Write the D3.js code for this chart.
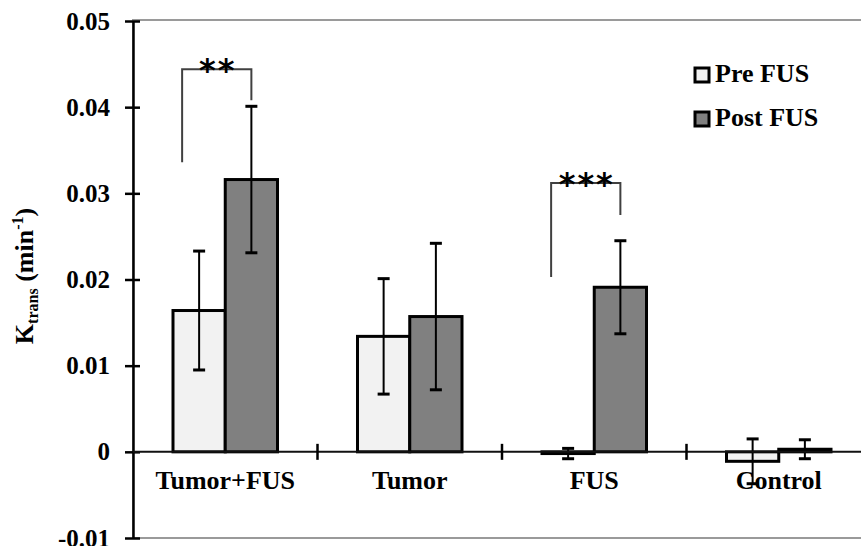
<!DOCTYPE html>
<html>
<head>
<meta charset="utf-8">
<script src="https://cdn.jsdelivr.net/npm/d3@7"></script>
<style>
  body { margin: 0; background: #fff; }
  text { font-family: "Liberation Serif", "Times New Roman", serif; font-weight: bold; }
</style>
</head>
<body>
<div id="chart"></div>
<script>
// data
var categories = ["Tumor+FUS", "Tumor", "FUS", "Control"];
var series = ["Pre FUS", "Post FUS"];
var preMean = [0.0164, 0.0134, -0.0002, -0.0011];
var preErr = [0.0069, 0.0067, 0.0006, 0.0026];
var postMean = [0.0316, 0.0157, 0.0191, 0.0003];
var postErr = [0.0085, 0.0085, 0.0054, 0.0011];
var yTicks = [-0.01, 0, 0.01, 0.02, 0.03, 0.04, 0.05];
var yTickLabels = ["-0.01", "0", "0.01", "0.02", "0.03", "0.04", "0.05"];
// significance brackets: group, label, top level, left foot, right foot
var brackets = [
    { cat: "Tumor+FUS", label: "**", top: 0.0444, left: 0.0336, right: 0.0408 },
    { cat: "FUS", label: "***", top: 0.0312, left: 0.0203, right: 0.0275 }
];

var width = 861, height = 546;
var mLeft = 133, mRight = 871, mTop = 21, mBottom = 538;

var svg = d3.select("#chart").append("svg")
    .attr("width", width)
    .attr("height", height);

var y = d3.scaleLinear().domain([-0.01, 0.05]).range([mBottom, mTop]);
var x0 = d3.scaleBand().domain(categories).range([mLeft, mRight]);
var bw = x0.bandwidth();
var x1 = d3.scaleBand().domain(series).range([40, bw - 40]);
var color = d3.scaleOrdinal().domain(series).range(["#f2f2f2", "#808080"]);

var rows = categories.map(function (c, i) {
    return { cat: c, values: [
        { s: series[0], v: preMean[i], e: preErr[i] },
        { s: series[1], v: postMean[i], e: postErr[i] }
    ] };
});

// plot frame (top and bottom visible)
svg.append("rect")
    .attr("x", mLeft).attr("y", mTop - 1)
    .attr("width", mRight - mLeft + 20).attr("height", mBottom - mTop + 1)
    .attr("fill", "none").attr("stroke", "#9a9a9a").attr("stroke-width", 2);

// y axis
var yAxis = d3.axisLeft(y).tickValues(yTicks).tickSize(0).tickPadding(23)
    .tickFormat(function (d, i) { return yTickLabels[i]; });
var ga = svg.append("g").attr("transform", "translate(" + mLeft + ",0)").call(yAxis)
    .attr("font-family", "Liberation Serif").attr("font-weight", "bold").attr("font-size", 25);
ga.select(".domain").attr("stroke", "#000").attr("stroke-width", 2.5);
ga.selectAll(".tick text").attr("fill", "#000");
ga.selectAll(".tick").append("line")
    .attr("x1", -8).attr("x2", 7).attr("stroke", "#000").attr("stroke-width", 2.5);

// bars
var groups = svg.selectAll(".grp").data(rows).enter().append("g")
    .attr("transform", function (d) { return "translate(" + x0(d.cat) + ",0)"; });

groups.selectAll("rect").data(function (d) { return d.values; }).enter().append("rect")
    .attr("x", function (d) { return x1(d.s); })
    .attr("y", function (d) { return y(Math.max(0, d.v)); })
    .attr("width", x1.bandwidth())
    .attr("height", function (d) { return Math.abs(y(d.v) - y(0)); })
    .attr("fill", function (d) { return color(d.s); })
    .attr("stroke", "#000").attr("stroke-width", 3);

// zero axis with category ticks
svg.append("line")
    .attr("x1", mLeft).attr("x2", mRight)
    .attr("y1", y(0)).attr("y2", y(0))
    .attr("stroke", "#111").attr("stroke-width", 2);
svg.selectAll(".ctick").data(categories.slice(1)).enter().append("line")
    .attr("x1", function (d) { return x0(d); }).attr("x2", function (d) { return x0(d); })
    .attr("y1", y(0) - 8).attr("y2", y(0) + 8)
    .attr("stroke", "#000").attr("stroke-width", 2.5);

// error bars
var eb = groups.selectAll(".err").data(function (d) { return d.values; }).enter().append("g")
    .attr("stroke", "#000").attr("stroke-width", 2);
eb.append("line")
    .attr("x1", function (d) { return x1(d.s) + x1.bandwidth() / 2; })
    .attr("x2", function (d) { return x1(d.s) + x1.bandwidth() / 2; })
    .attr("y1", function (d) { return y(d.v + d.e); })
    .attr("y2", function (d) { return y(d.v - d.e); });
[1, -1].forEach(function (k) {
    eb.append("line")
        .attr("x1", function (d) { return x1(d.s) + x1.bandwidth() / 2 - 6; })
        .attr("x2", function (d) { return x1(d.s) + x1.bandwidth() / 2 + 6; })
        .attr("y1", function (d) { return y(d.v + k * d.e); })
        .attr("y2", function (d) { return y(d.v + k * d.e); })
        .attr("stroke-width", 3);
});

// category labels
svg.selectAll(".clabel").data(categories).enter().append("text")
    .attr("x", function (d) { return x0(d) + bw / 2; })
    .attr("y", 489)
    .attr("text-anchor", "middle")
    .attr("font-size", 26)
    .text(function (d) { return d; });

// significance brackets
brackets.forEach(function (b) {
    var xl = x0(b.cat) + x1(series[0]) + x1.bandwidth() / 2 - 17;
    var xr = x0(b.cat) + x1(series[1]) + x1.bandwidth() / 2;
    svg.append("path")
        .attr("d", "M" + xl + "," + y(b.left) + "V" + y(b.top) + "H" + xr + "V" + y(b.right))
        .attr("fill", "none").attr("stroke", "#404040").attr("stroke-width", 2);
    svg.append("text")
        .attr("x", (xl + xr) / 2 + 1).attr("y", y(b.top) + 12)
        .attr("text-anchor", "middle")
        .attr("font-size", 32)
        .attr("letter-spacing", 2)
        .style("font-family", "DejaVu Sans")
        .text(b.label);
});

// legend
var lg = svg.selectAll(".lg").data(series).enter().append("g")
    .attr("transform", function (d, i) { return "translate(695," + (68 + i * 44) + ")"; });
lg.append("rect")
    .attr("width", 14).attr("height", 14)
    .attr("fill", function (d) { return color(d); })
    .attr("stroke", "#000").attr("stroke-width", 3);
lg.append("text")
    .attr("x", 20).attr("y", 14)
    .attr("font-size", 26)
    .text(function (d) { return d; });

// y title
var t = svg.append("text")
    .attr("transform", "translate(33,276) rotate(-90)")
    .attr("text-anchor", "middle")
    .attr("font-size", 26);
t.append("tspan").text("K");
t.append("tspan").attr("font-size", 16).attr("dy", 5).text("trans");
t.append("tspan").attr("dy", -5).text(" (min");
t.append("tspan").attr("font-size", 16).attr("dy", -10).text("-1");
t.append("tspan").attr("dy", 10).text(")");
</script>
</body>
</html>
